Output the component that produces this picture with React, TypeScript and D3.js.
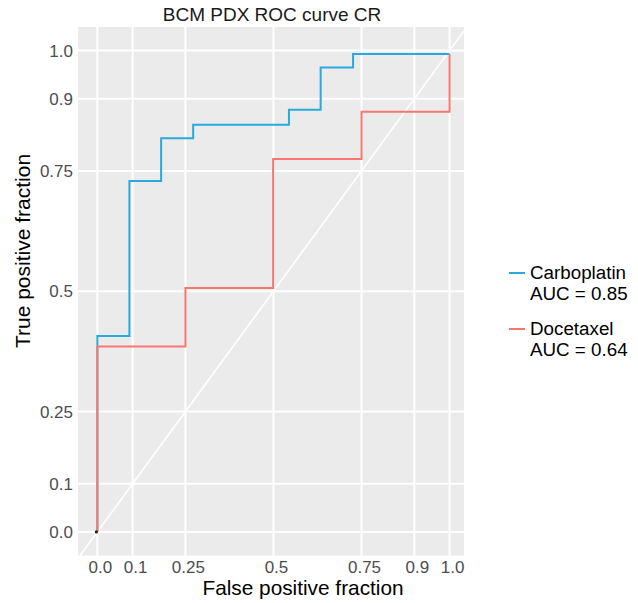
import * as d3 from 'd3';
import React from 'react';

// ROC step points (fpr, tpr)
const carboFpr = [0, 0, 0.091, 0.181, 0.272, 0.544, 0.634, 0.726, 1.0];
const carboTpr = [0, 0.407, 0.729, 0.818, 0.846, 0.877, 0.965, 0.993, 0.993];
const doceFpr = [0, 0, 0.25, 0.499, 0.75, 1.0];
const doceTpr = [0, 0.385, 0.507, 0.775, 0.873, 0.993];

const seriesNames = ['Carboplatin', 'Docetaxel'];
const aucLabels = ['AUC = 0.85', 'AUC = 0.64'];
const seriesColors = ['#29A9E0', '#F8766D'];

const tickValues = [0, 0.1, 0.25, 0.5, 0.75, 0.9, 1.0];
const tickLabels = ['0.0', '0.1', '0.25', '0.5', '0.75', '0.9', '1.0'];

const FONT = '"Liberation Sans", Arial, Helvetica, sans-serif';

const App = () => {
	const width = 638;
	const height = 603;
	const panel = { left: 78, right: 464, top: 27, bottom: 555.5 };

	const x = d3.scaleLinear().domain([-0.055, 1.041]).range([panel.left, panel.right]);
	const y = d3.scaleLinear().domain([-0.049, 1.049]).range([panel.bottom, panel.top]);

	const line = d3.line<[number, number]>()
		.x(d => x(d[0]))
		.y(d => y(d[1]))
		.curve(d3.curveStepAfter);

	const series = [
		carboFpr.map((f, i) => [f, carboTpr[i]] as [number, number]),
		doceFpr.map((f, i) => [f, doceTpr[i]] as [number, number]),
	];

	// diagonal y = x clipped to the panel
	const dLo = Math.max(x.domain()[0], y.domain()[0]);
	const dHi = Math.min(x.domain()[1], y.domain()[1]);

	return (
		<svg width={width} height={height} style={{ position: 'absolute', left: 0, top: 0 }} fontFamily={FONT}>
			<rect x={0} y={0} width={width} height={height} fill="#fff" />
			<rect x={panel.left} y={panel.top} width={panel.right - panel.left} height={panel.bottom - panel.top} fill="#EBEBEB" />

			{/* grid */}
			{tickValues.map((t, i) => (
				<g key={'g' + i}>
					<line x1={x(t)} x2={x(t)} y1={panel.top} y2={panel.bottom} stroke="#fff" strokeWidth={2} />
					<line x1={panel.left} x2={panel.right} y1={y(t)} y2={y(t)} stroke="#fff" strokeWidth={2} />
				</g>
			))}

			<line x1={x(dLo)} y1={y(dLo)} x2={x(dHi)} y2={y(dHi)} stroke="#fff" strokeWidth={1.6} />

			{/* curves */}
			{series.map((s, i) => (
				<path key={'s' + i} d={line(s) || ''} fill="none" stroke={seriesColors[i]} strokeWidth={2} />
			))}
			<circle cx={x(0) - 1} cy={y(0)} r={1.6} fill="#222" />

			{/* axes labels */}
			{tickValues.map((t, i) => (
				<text key={'yl' + i} x={73} y={y(t)} dy="0.36em" textAnchor="end" fontSize={17} fill="#4D4D4D">{tickLabels[i]}</text>
			))}
			{tickValues.map((t, i) => (
				<text key={'xl' + i} x={x(t) + 3} y={572.5} textAnchor="middle" fontSize={17} fill="#4D4D4D">{tickLabels[i]}</text>
			))}

			<text x={272} y={21} textAnchor="middle" fontSize={19} fill="#1a1a1a">BCM PDX ROC curve CR</text>
			<text x={303} y={595} textAnchor="middle" fontSize={20.8} fill="#000">False positive fraction</text>
			<text transform="translate(30,251) rotate(-90)" textAnchor="middle" fontSize={21} fill="#000">True positive fraction</text>

			{/* legend */}
			{seriesNames.map((name, i) => {
				const top = 265 + i * 56;
				return (
					<g key={'lg' + i}>
						<line x1={509} x2={525} y1={top + 8} y2={top + 8} stroke={seriesColors[i]} strokeWidth={2} />
						<text x={530} y={top + 14} fontSize={18.8} fill="#000">{name}</text>
						<text x={530} y={top + 35} fontSize={18.8} fill="#000">{aucLabels[i]}</text>
					</g>
				);
			})}
		</svg>
	);
};

export default App;
